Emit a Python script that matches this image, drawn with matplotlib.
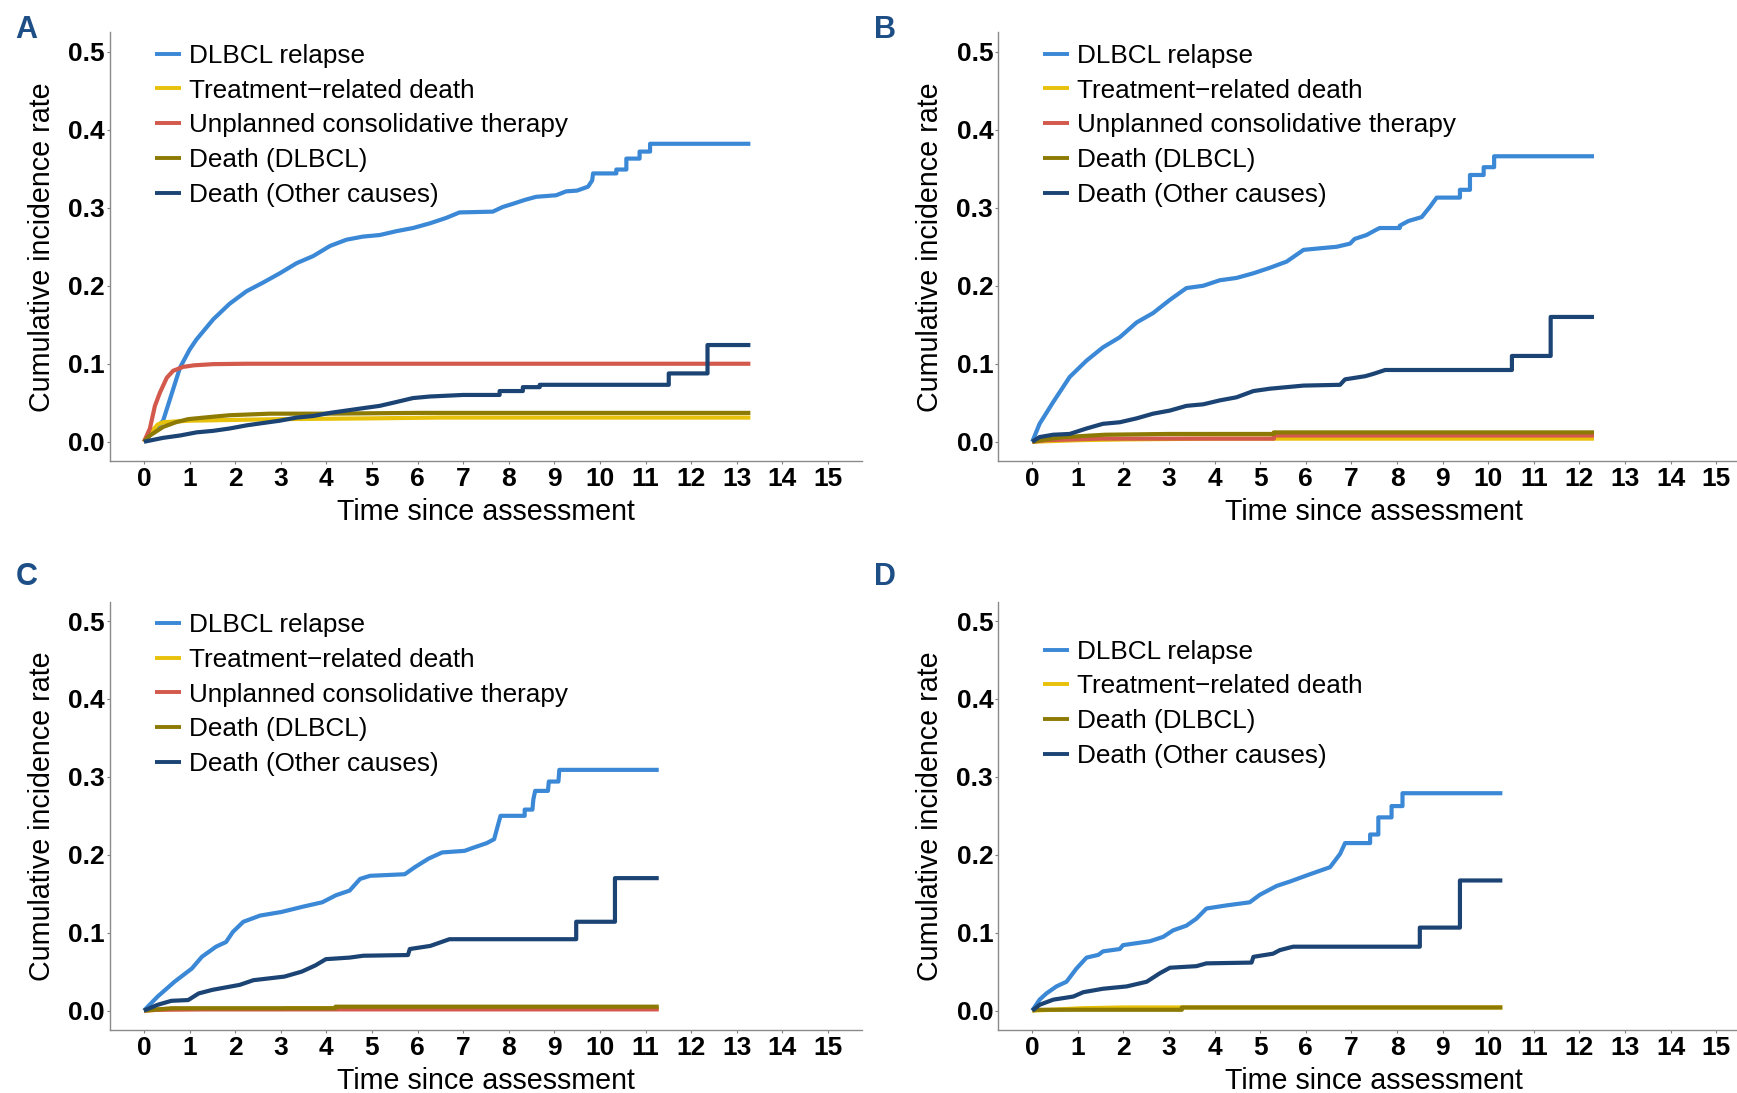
import numpy as np
import matplotlib
matplotlib.use("Agg")
import matplotlib.pyplot as plt

plt.rcParams['font.family'] = ['Liberation Sans', 'DejaVu Sans']

# Colores de las series
colores = {
    'relapse': '#3a88d6',
    'trd': '#e8c10a',
    'unplanned': '#d2594b',
    'death_dlbcl': '#8c7a05',
    'death_other': '#1b4373',
}

etiquetas = {
    'relapse': 'DLBCL relapse',
    'trd': 'Treatment\u2212related death',
    'unplanned': 'Unplanned consolidative therapy',
    'death_dlbcl': 'Death (DLBCL)',
    'death_other': 'Death (Other causes)',
}

x_ticks = list(range(0, 16))
y_ticks = [0.0, 0.1, 0.2, 0.3, 0.4, 0.5]

##############################
# Panel A
##############################
a_relapse_t = [0, 0.42, 0.79, 1.0, 1.15, 1.52, 1.88, 2.25, 2.61, 2.98, 3.35, 3.71, 4.08,
               4.44, 4.80, 5.17, 5.54, 5.90, 6.27, 6.63, 6.92, 7.65, 7.87, 8.09, 8.35,
               8.60, 9.04, 9.26, 9.50, 9.74, 9.83, 9.85, 10.36, 10.36, 10.58, 10.58,
               10.87, 10.87, 11.10, 11.10, 13.30]
a_relapse_v = [0, 0.027, 0.095, 0.118, 0.131, 0.157, 0.177, 0.193, 0.204, 0.216, 0.229,
               0.238, 0.251, 0.259, 0.263, 0.265, 0.270, 0.274, 0.280, 0.287, 0.294,
               0.295, 0.301, 0.305, 0.310, 0.314, 0.316, 0.321, 0.322, 0.327, 0.335,
               0.344, 0.344, 0.349, 0.349, 0.363, 0.363, 0.372, 0.372, 0.382, 0.382]
a_trd_t = [0, 0.15, 0.30, 0.42, 0.70, 1.0, 2.0, 3.0, 4.0, 5.0, 6.5, 13.30]
a_trd_v = [0, 0.012, 0.022, 0.025, 0.026, 0.027, 0.028, 0.029, 0.0295, 0.030, 0.031, 0.031]
a_unpl_t = [0, 0.13, 0.24, 0.35, 0.50, 0.64, 0.86, 1.10, 1.52, 2.25, 13.30]
a_unpl_v = [0, 0.017, 0.046, 0.063, 0.082, 0.091, 0.096, 0.098, 0.0995, 0.100, 0.100]
a_ddl_t = [0, 0.13, 0.42, 0.70, 0.97, 1.5, 1.88, 2.76, 4.0, 6.0, 13.30]
a_ddl_v = [0, 0.008, 0.019, 0.025, 0.029, 0.032, 0.034, 0.036, 0.036, 0.037, 0.037]
a_doth_t = [0, 0.42, 0.79, 1.15, 1.52, 1.88, 2.25, 2.61, 2.98, 3.35, 3.71, 4.08, 4.44,
            4.80, 5.17, 5.54, 5.90, 6.27, 7.00, 7.80, 7.80, 8.31, 8.31, 8.68, 8.68,
            11.51, 11.51, 12.36, 12.36, 13.30]
a_doth_v = [0, 0.005, 0.008, 0.012, 0.014, 0.017, 0.021, 0.024, 0.027, 0.031, 0.033,
            0.037, 0.040, 0.043, 0.046, 0.051, 0.056, 0.058, 0.060, 0.060, 0.065,
            0.065, 0.070, 0.070, 0.073, 0.073, 0.0876, 0.0876, 0.124, 0.124]

##############################
# Panel B
##############################
b_relapse_t = [0, 0.16, 0.46, 0.82, 1.19, 1.55, 1.92, 2.29, 2.65, 3.02, 3.38, 3.75, 4.11,
               4.48, 4.85, 5.21, 5.58, 5.95, 6.31, 6.68, 6.97, 7.07, 7.33, 7.55, 7.62,
               8.06, 8.06, 8.25, 8.54, 8.72, 8.87, 9.38, 9.38, 9.60, 9.60, 9.90, 9.90,
               10.13, 10.13, 12.32]
b_relapse_v = [0, 0.023, 0.051, 0.083, 0.104, 0.121, 0.134, 0.153, 0.165, 0.182, 0.197,
               0.200, 0.207, 0.210, 0.216, 0.223, 0.231, 0.246, 0.248, 0.250, 0.254,
               0.260, 0.265, 0.272, 0.274, 0.274, 0.277, 0.283, 0.288, 0.301, 0.313,
               0.313, 0.323, 0.323, 0.342, 0.342, 0.352, 0.352, 0.366, 0.366]
b_trd_t = [0, 0.5, 1.0, 2.0, 4.0, 12.32]
b_trd_v = [0, 0.001, 0.002, 0.003, 0.004, 0.004]
b_unpl_t = [0, 0.3, 1.5, 5.3, 5.3, 12.32]
b_unpl_v = [0, 0.002, 0.004, 0.004, 0.008, 0.008]
b_ddl_t = [0, 0.3, 0.7, 1.6, 3.0, 5.3, 5.3, 12.32]
b_ddl_v = [0, 0.003, 0.006, 0.009, 0.010, 0.010, 0.012, 0.012]
b_doth_t = [0, 0.16, 0.46, 0.82, 1.19, 1.55, 1.92, 2.29, 2.65, 3.02, 3.38, 3.75, 4.11,
            4.48, 4.85, 5.21, 5.58, 5.95, 6.75, 6.86, 7.30, 7.48, 7.74, 10.52, 10.52,
            11.37, 11.37, 12.32]
b_doth_v = [0, 0.006, 0.009, 0.010, 0.017, 0.023, 0.025, 0.030, 0.036, 0.040, 0.046,
            0.048, 0.053, 0.057, 0.065, 0.068, 0.070, 0.072, 0.073, 0.080, 0.084,
            0.087, 0.092, 0.092, 0.110, 0.110, 0.160, 0.160]

##############################
# Panel C
##############################
c_relapse_t = [0, 0.30, 0.67, 1.05, 1.27, 1.58, 1.80, 1.95, 2.18, 2.55, 3.01, 3.46, 3.91,
               4.21, 4.51, 4.74, 4.96, 5.72, 5.94, 6.24, 6.54, 7.03, 7.22, 7.52, 7.68,
               7.75, 7.82, 8.35, 8.35, 8.52, 8.54, 8.58, 8.86, 8.88, 9.09, 9.11, 11.29]
c_relapse_v = [0, 0.018, 0.037, 0.054, 0.069, 0.082, 0.088, 0.101, 0.114, 0.122, 0.1265,
               0.133, 0.139, 0.148, 0.154, 0.169, 0.173, 0.175, 0.184, 0.195, 0.203,
               0.205, 0.209, 0.215, 0.220, 0.235, 0.250, 0.250, 0.258, 0.258, 0.271,
               0.282, 0.282, 0.294, 0.294, 0.309, 0.309]
c_trd_t = [0, 0.6, 3.1, 3.1, 11.29]
c_trd_v = [0, 0.002, 0.002, 0.003, 0.003]
c_unpl_t = [0, 0.3, 1.3, 11.29]
c_unpl_v = [0, 0.001, 0.0015, 0.0015]
c_ddl_t = [0, 0.6, 4.2, 4.2, 11.29]
c_ddl_v = [0, 0.003, 0.003, 0.005, 0.005]
c_doth_t = [0, 0.30, 0.60, 0.97, 1.20, 1.50, 2.10, 2.40, 3.08, 3.46, 3.76, 3.99, 4.51,
            4.81, 5.79, 5.83, 6.28, 6.70, 9.48, 9.48, 10.33, 10.33, 11.29]
c_doth_v = [0, 0.0074, 0.0125, 0.0135, 0.022, 0.0266, 0.033, 0.039, 0.0436, 0.050,
            0.058, 0.066, 0.068, 0.0704, 0.0713, 0.079, 0.083, 0.0916, 0.0916, 0.114,
            0.114, 0.170, 0.170]

##############################
# Panel D
##############################
d_relapse_t = [0, 0.16, 0.31, 0.53, 0.75, 0.97, 1.19, 1.45, 1.55, 1.92, 1.99, 2.58, 2.87,
               3.09, 3.38, 3.60, 3.82, 4.26, 4.77, 4.99, 5.36, 5.65, 6.09, 6.53, 6.75,
               6.86, 7.41, 7.41, 7.59, 7.59, 7.88, 7.88, 8.12, 8.12, 10.31]
d_relapse_v = [0, 0.014, 0.022, 0.031, 0.037, 0.054, 0.068, 0.0715, 0.076, 0.079, 0.084,
               0.089, 0.0946, 0.103, 0.109, 0.118, 0.131, 0.135, 0.139, 0.1486, 0.160,
               0.1656, 0.175, 0.184, 0.201, 0.215, 0.215, 0.226, 0.226, 0.248, 0.248,
               0.2625, 0.2625, 0.279, 0.279]
d_trd_t = [0, 0.4, 1.1, 2.0, 10.31]
d_trd_v = [0, 0.001, 0.003, 0.004, 0.004]
d_ddl_t = [0, 0.1, 3.28, 3.28, 10.31]
d_ddl_v = [0, 0.001, 0.001, 0.004, 0.004]
d_doth_t = [0, 0.16, 0.46, 0.90, 1.12, 1.55, 2.07, 2.51, 2.80, 3.02, 3.60, 3.82, 4.81,
            4.85, 5.28, 5.43, 5.72, 8.50, 8.50, 9.38, 9.38, 10.31]
d_doth_v = [0, 0.0074, 0.014, 0.018, 0.0236, 0.028, 0.031, 0.037, 0.048, 0.055, 0.057,
            0.0606, 0.0616, 0.069, 0.073, 0.0776, 0.082, 0.082, 0.1065, 0.1065, 0.167,
            0.167]

paneles = [
    ('A', [0.0632, 0.578, 0.4331, 0.3925], 0.973,
     [('relapse', a_relapse_t, a_relapse_v), ('trd', a_trd_t, a_trd_v),
      ('unplanned', a_unpl_t, a_unpl_v), ('death_dlbcl', a_ddl_t, a_ddl_v),
      ('death_other', a_doth_t, a_doth_v)]),
    ('B', [0.5746, 0.578, 0.4331, 0.3925], 0.973,
     [('relapse', b_relapse_t, b_relapse_v), ('trd', b_trd_t, b_trd_v),
      ('unplanned', b_unpl_t, b_unpl_v), ('death_dlbcl', b_ddl_t, b_ddl_v),
      ('death_other', b_doth_t, b_doth_v)]),
    ('C', [0.0632, 0.0576, 0.4331, 0.392], 0.973,
     [('relapse', c_relapse_t, c_relapse_v), ('trd', c_trd_t, c_trd_v),
      ('unplanned', c_unpl_t, c_unpl_v), ('death_dlbcl', c_ddl_t, c_ddl_v),
      ('death_other', c_doth_t, c_doth_v)]),
    ('D', [0.5746, 0.0576, 0.4331, 0.392], 0.911,
     [('relapse', d_relapse_t, d_relapse_v), ('trd', d_trd_t, d_trd_v),
      ('death_dlbcl', d_ddl_t, d_ddl_v), ('death_other', d_doth_t, d_doth_v)]),
]

letras_pos = {'A': (0.0153, 0.973), 'B': (0.5095, 0.973),
              'C': (0.0153, 0.472), 'D': (0.5095, 0.472)}

fig = plt.figure(figsize=(17.37, 10.93), dpi=100)

for letra, rect, leg_y, series in paneles:
    ax = fig.add_axes(rect)
    for clave, t, v in series:
        ax.plot(t, v, color=colores[clave], lw=3.0, label=etiquetas[clave],
                solid_capstyle='butt')

    ax.set_xlim(-0.75, 15.75)
    ax.set_ylim(-0.025, 0.525)
    ax.set_xticks(x_ticks)
    ax.set_yticks(y_ticks)
    ax.set_yticklabels(['%.1f' % y for y in y_ticks])
    for lab in ax.get_xticklabels() + ax.get_yticklabels():
        lab.set_fontweight('bold')
        lab.set_fontsize(19)
    ax.tick_params(axis='both', length=2, width=0.8, color='#7f7f7f')
    ax.tick_params(axis='y', pad=1.5)
    ax.tick_params(axis='x', pad=2.5)

    for lado in ['top', 'right']:
        ax.spines[lado].set_visible(False)
    for lado in ['left', 'bottom']:
        ax.spines[lado].set_color('#8a8a8a')
        ax.spines[lado].set_linewidth(1.0)

    ax.set_xlabel('Time since assessment', fontsize=20.6, labelpad=5)
    ax.set_ylabel('Cumulative incidence rate', fontsize=20.6, labelpad=9)

    leg = ax.legend(loc='upper left', bbox_to_anchor=(0.06, leg_y), frameon=False,
                    fontsize=18.8, handlelength=1.0, handletextpad=0.3,
                    labelspacing=0.41, borderpad=0, borderaxespad=0)
    for h in leg.get_lines():
        h.set_linewidth(2.8)

    fig.text(letras_pos[letra][0], letras_pos[letra][1], letra, fontsize=22,
             fontweight='bold', color='#1d4f86', ha='center', va='center')

fig.savefig('out.png', dpi=100)
